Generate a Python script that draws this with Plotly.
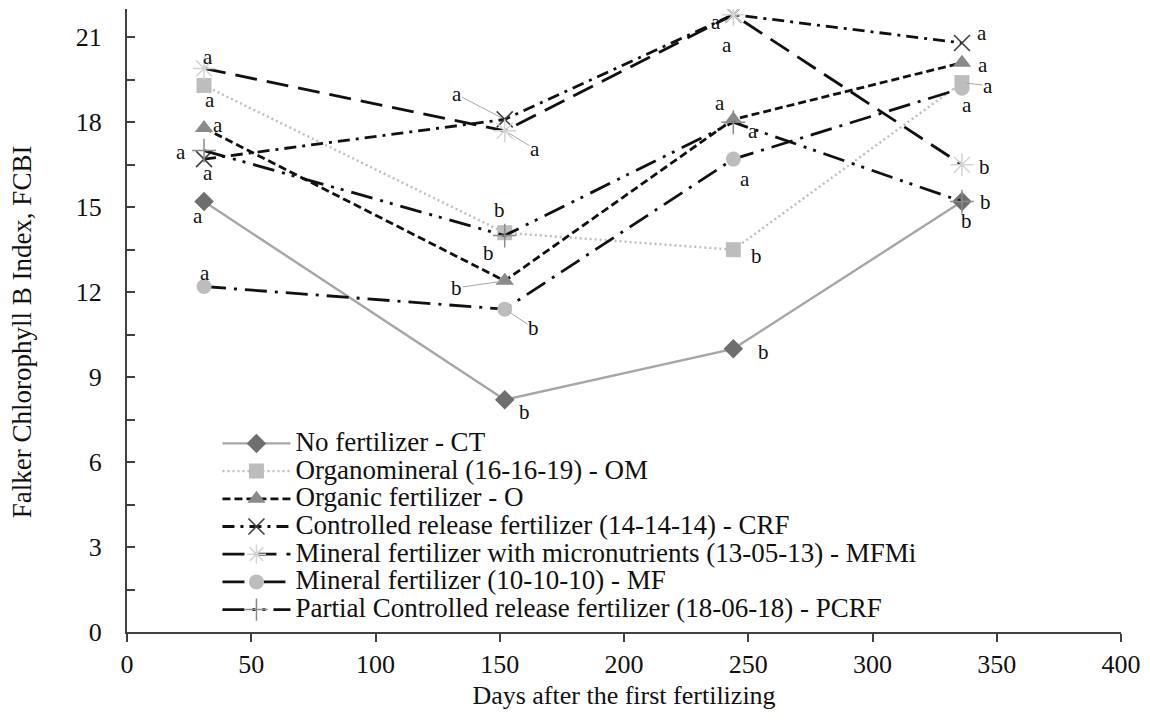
import plotly.graph_objects as go

days = [31, 152, 244, 336]

series_names = [
    "No fertilizer - CT",
    "Organomineral (16-16-19) - OM",
    "Organic fertilizer - O",
    "Controlled release fertilizer (14-14-14) - CRF",
    "Mineral fertilizer with micronutrients (13-05-13) - MFMi",
    "Mineral fertilizer (10-10-10) - MF",
    "Partial Controlled release fertilizer (18-06-18) - PCRF",
]

ct = [15.2, 8.2, 10.0, 15.2]
om = [19.3, 14.1, 13.5, 19.4]
o = [17.8, 12.4, 18.1, 20.1]
crf = [16.7, 18.1, 21.8, 20.8]
mfmi = [19.9, 17.7, 21.8, 16.5]
mf = [12.2, 11.4, 16.7, 19.2]
pcrf = [17.0, 14.0, 18.0, 15.2]

ct_letters = ["a", "b", "b", "b"]
om_letters = ["a", "b", "b", "a"]
o_letters = ["a", "b", "a", "a"]
crf_letters = ["a", "a", "a", "a"]
mfmi_letters = ["a", "a", "a", "b"]
mf_letters = ["a", "b", "a", "a"]
pcrf_letters = ["a", "b", "a", "b"]

y_tick_vals = [0, 3, 6, 9, 12, 15, 18, 21]
x_tick_vals = [0, 50, 100, 150, 200, 250, 300, 350, 400]

x_title = "Days after the first fertilizing"
y_title = "Falker Chlorophyll B Index, FCBI"

values = [ct, om, o, crf, mfmi, mf, pcrf]
letters = [ct_letters, om_letters, o_letters, crf_letters, mfmi_letters, mf_letters, pcrf_letters]

FONT = "Liberation Serif"

styles = [
    dict(line=dict(color="#a6a6a6", width=2.4, dash="solid"),
         marker=dict(symbol="diamond", size=15, color="#6e6e6e")),
    dict(line=dict(color="#bdbdbd", width=2.4, dash="2px,3px"),
         marker=dict(symbol="square", size=15, color="#bdbdbd")),
    dict(line=dict(color="#111111", width=2.8, dash="8px,4px"),
         marker=dict(symbol="triangle-up", size=16, color="#8a8a8a")),
    dict(line=dict(color="#111111", width=2.8, dash="12px,6px,3px,6px"),
         marker=dict(symbol="x-thin-open", size=16, color="#404040", line=dict(width=1.6, color="#404040"))),
    dict(line=dict(color="#111111", width=2.8, dash="22px,10px"),
         marker=dict(symbol="asterisk-open", size=19, color="#d4d4d4", line=dict(width=1.5, color="#d4d4d4"))),
    dict(line=dict(color="#111111", width=2.8, dash="22px,8px,3px,8px"),
         marker=dict(symbol="circle", size=15, color="#bdbdbd")),
    dict(line=dict(color="#111111", width=2.8, dash="22px,8px,3px,7px,3px,8px"),
         marker=dict(symbol="cross-thin-open", size=17, color="#8a8a8a", line=dict(width=1.5, color="#8a8a8a"))),
]

# label offsets in pixels (dx right, dy down) per series and point; True draws a leader line
offsets = [
    [(-6, 14, False), (20, 12, False), (30, 3, False), (5, 19, False)],
    [(6, 15, False), (-5, -23, False), (23, 6, False), (26, 3, True)],
    [(14, -3, False), (-48, 7, True), (-13, -16, False), (21, 2, False)],
    [(-23, -7, False), (-48, -25, True), (-17, 7, False), (20, -10, False)],
    [(4, -11, False), (30, 18, True), (-6, 30, False), (23, 2, False)],
    [(1, -14, False), (29, 19, True), (12, 20, False), (5, 17, False)],
    [(4, 22, False), (-16, 17, False), (20, 9, False), (24, 0, False)],
]

fig = go.Figure()
for name, vals, st in zip(series_names, values, styles):
    fig.add_trace(go.Scatter(x=days, y=vals, name='<span style="font-size:27px">' + name + '</span>',
                             mode="lines+markers", line=st["line"], marker=st["marker"]))

letter_font = dict(family=FONT, size=21, color="#111111")
annotations = []
for vals, lets, offs in zip(values, letters, offsets):
    for xd, yv, lt, (dx, dy, arrow) in zip(days, vals, lets, offs):
        if arrow:
            annotations.append(dict(x=xd, y=yv, xref="x", yref="y", text=lt,
                                    showarrow=True, arrowhead=0, arrowwidth=1,
                                    arrowcolor="#a6a6a6", ax=dx, ay=dy, standoff=4,
                                    borderpad=0, font=letter_font))
        else:
            annotations.append(dict(x=xd, y=yv, xref="x", yref="y", text=lt,
                                    showarrow=False, xshift=dx, yshift=-dy,
                                    borderpad=0, font=letter_font))

# y-axis title placed as a rotated text beside the axis
annotations.append(dict(x=-0.106, y=0.482, xref="paper", yref="paper", text=y_title,
                        textangle=-90, showarrow=False, xanchor="center", yanchor="middle",
                        font=dict(family=FONT, size=27, color="#111111")))

fig.update_layout(
    width=1150, height=720,
    margin=dict(l=119, r=37, t=1, b=96),
    paper_bgcolor="white", plot_bgcolor="white",
    font=dict(family=FONT, size=26, color="#111111"),
    showlegend=True,
    legend=dict(x=0.091, y=0.333, xanchor="left", yanchor="top",
                bgcolor="rgba(0,0,0,0)", font=dict(family=FONT, size=19, color="#111111"),
                itemwidth=68, tracegroupgap=0),
    annotations=annotations,
    xaxis=dict(range=[0, 400], tickvals=x_tick_vals, showgrid=False, zeroline=False,
               showline=True, linecolor="#404040", linewidth=2,
               ticks="outside", ticklen=8, tickcolor="#404040", tickwidth=1.5,
               title=dict(text=x_title, font=dict(family=FONT, size=26), standoff=8),
               tickfont=dict(family=FONT, size=26)),
    yaxis=dict(range=[0, 22], tickvals=y_tick_vals, showgrid=False, zeroline=False,
               showline=True, linecolor="#404040", linewidth=2,
               ticks="inside", ticklen=8, tickcolor="#404040", tickwidth=1.5,
               ticklabelstandoff=18, automargin=False,
               minor=dict(dtick=1.5, ticks="inside", ticklen=8, tickcolor="#404040", tickwidth=1.5, showgrid=False),
               tickfont=dict(family=FONT, size=26)),
)

fig.write_html("out.html")
